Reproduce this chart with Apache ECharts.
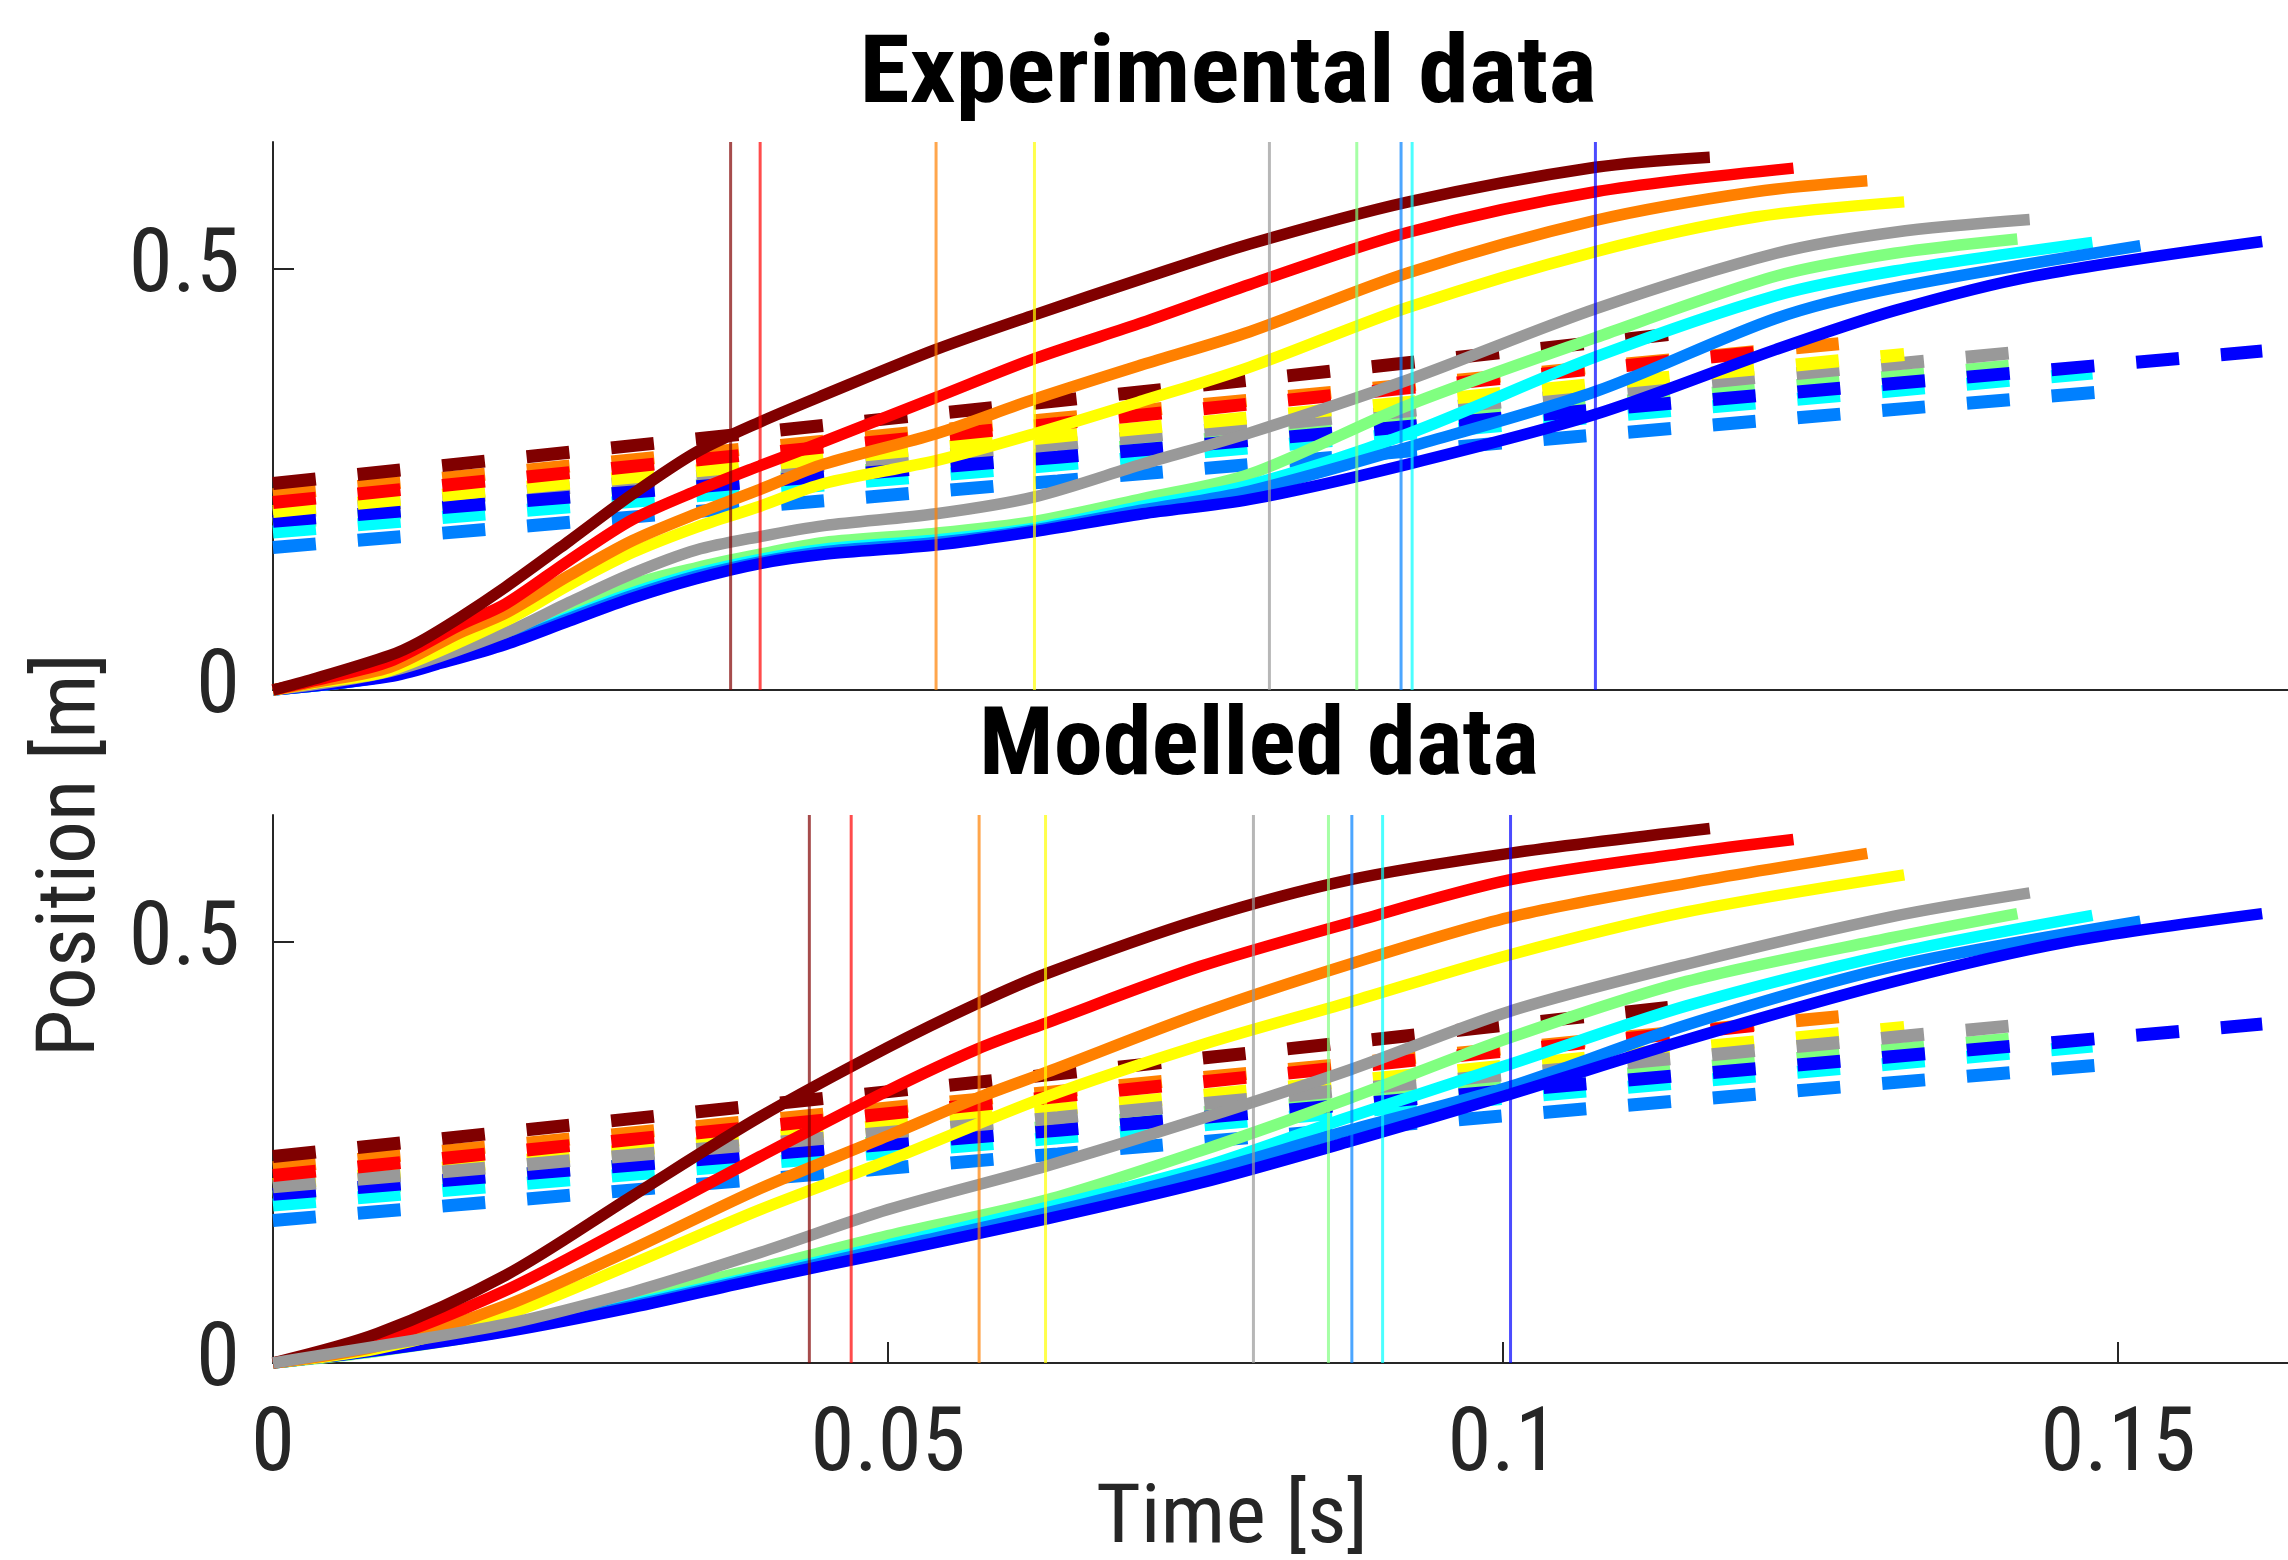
<!DOCTYPE html>
<html>
<head>
    <meta charset="utf-8" />
    <title>Position vs time</title>
    <script src="https://cdn.jsdelivr.net/npm/echarts@6/dist/echarts.min.js"></script>
    <style>
        html, body { margin: 0; padding: 0; background: #fff; }
        #chart { width: 2288px; height: 1560px; }
    </style>
</head>
<body>
<div id="chart"></div>
<script>
    // colours of the nine runs (maroon ... blue)
    var runColors = ['#800000', '#ff0000', '#ff8000', '#ffff00', '#999999', '#80ff80', '#00ffff', '#0080ff', '#0000ff'];
    var lineColors = ['rgba(128,0,0,0.7)', 'rgba(255,0,0,0.7)', 'rgba(255,128,0,0.7)', 'rgba(255,255,0,0.7)',
        'rgba(153,153,153,0.7)', 'rgba(128,255,128,0.7)', 'rgba(0,255,255,0.7)', 'rgba(0,128,255,0.7)', 'rgba(0,0,255,0.7)'];

    // experimental position curves [time s, position m]
    var expMaroon = [[0,0],[0.0033,0.013],[0.0095,0.041],[0.0119,0.057],[0.0152,0.086],[0.0189,0.122],[0.0241,0.177],[0.0292,0.232],[0.0344,0.282],[0.0396,0.318],[0.0448,0.350],[0.0539,0.404],[0.0619,0.445],[0.0707,0.488],[0.0794,0.529],[0.0923,0.579],[0.1075,0.620],[0.1168,0.632]];
    var expRed = [[0,0],[0.0033,0.011],[0.0095,0.034],[0.0152,0.077],[0.0189,0.102],[0.0241,0.154],[0.0292,0.202],[0.0344,0.236],[0.0396,0.266],[0.0448,0.295],[0.0539,0.347],[0.0619,0.393],[0.0707,0.436],[0.0794,0.481],[0.0923,0.543],[0.1075,0.591],[0.1236,0.619]];
    var expOrange = [[0,0],[0.0033,0.009],[0.0095,0.027],[0.0152,0.068],[0.0189,0.091],[0.0241,0.136],[0.0292,0.177],[0.0344,0.209],[0.0396,0.238],[0.0448,0.268],[0.0539,0.304],[0.0619,0.345],[0.0707,0.386],[0.0794,0.425],[0.0923,0.495],[0.1075,0.557],[0.1205,0.591],[0.1296,0.604]];
    var expYellow = [[0,0],[0.0033,0.008],[0.0095,0.023],[0.0189,0.082],[0.0241,0.125],[0.0292,0.163],[0.0344,0.193],[0.0396,0.218],[0.0448,0.245],[0.0539,0.272],[0.0619,0.304],[0.0707,0.343],[0.0794,0.383],[0.0923,0.454],[0.1075,0.520],[0.1205,0.561],[0.1326,0.579]];
    var expGray = [[0,0],[0.0095,0.022],[0.0189,0.068],[0.0241,0.104],[0.0292,0.138],[0.0344,0.166],[0.0396,0.182],[0.0448,0.195],[0.0539,0.209],[0.0619,0.229],[0.0707,0.268],[0.0794,0.305],[0.0923,0.368],[0.1075,0.452],[0.1222,0.518],[0.1318,0.543],[0.1428,0.558]];
    var expGreen = [[0,0],[0.0095,0.018],[0.0189,0.060],[0.0241,0.091],[0.0292,0.125],[0.0344,0.145],[0.0396,0.161],[0.0448,0.175],[0.0539,0.186],[0.0619,0.200],[0.0707,0.227],[0.0794,0.256],[0.0923,0.338],[0.1075,0.418],[0.1222,0.491],[0.1318,0.518],[0.1418,0.535]];
    var expCyan = [[0,0],[0.0095,0.017],[0.0189,0.057],[0.0241,0.087],[0.0292,0.115],[0.0344,0.138],[0.0396,0.155],[0.0448,0.167],[0.0539,0.178],[0.0619,0.192],[0.0707,0.218],[0.0794,0.243],[0.0923,0.304],[0.1075,0.395],[0.1222,0.468],[0.1318,0.497],[0.1479,0.531]];
    var expAzure = [[0,0],[0.0095,0.017],[0.0189,0.056],[0.0241,0.085],[0.0292,0.112],[0.0344,0.135],[0.0396,0.152],[0.0448,0.164],[0.0539,0.175],[0.0619,0.190],[0.0707,0.2135],[0.0794,0.236],[0.0923,0.288],[0.1075,0.354],[0.1222,0.441],[0.1318,0.477],[0.1518,0.527]];
    var expBlue = [[0,0],[0.0095,0.016],[0.0137,0.032],[0.0189,0.054],[0.0241,0.082],[0.0292,0.109],[0.0344,0.132],[0.0396,0.150],[0.0448,0.161],[0.0539,0.172],[0.0619,0.188],[0.0707,0.209],[0.0794,0.226],[0.0923,0.268],[0.1075,0.327],[0.1222,0.404],[0.1318,0.450],[0.1431,0.491],[0.1617,0.532]];

    // modelled position curves
    var modMaroon = [[0,0],[0.0085,0.035],[0.0189,0.104],[0.0292,0.198],[0.0396,0.292],[0.05,0.3745],[0.0572,0.426],[0.0629,0.462],[0.0754,0.526],[0.0875,0.573],[0.1005,0.6045],[0.1168,0.634]];
    var modRed = [[0,0],[0.0085,0.026],[0.0189,0.086],[0.0292,0.1645],[0.0396,0.245],[0.05,0.323],[0.0572,0.372],[0.0629,0.4035],[0.0754,0.4705],[0.0875,0.522],[0.1005,0.573],[0.1149,0.605],[0.1236,0.621]];
    var modOrange = [[0,0],[0.0085,0.02],[0.0189,0.068],[0.0292,0.135],[0.0396,0.207],[0.05,0.2695],[0.0572,0.314],[0.0629,0.345],[0.0754,0.4146],[0.0875,0.473],[0.1005,0.5286],[0.1149,0.569],[0.1296,0.6045]];
    var modYellow = [[0,0],[0.0085,0.017],[0.0189,0.057],[0.0292,0.1176],[0.0396,0.182],[0.05,0.240],[0.0629,0.316],[0.0754,0.377],[0.0875,0.428],[0.1005,0.484],[0.1149,0.535],[0.1326,0.579]];
    var modGray = [[0,0],[0.0085,0.02],[0.0189,0.046],[0.0292,0.084],[0.0396,0.131],[0.05,0.182],[0.0629,0.2337],[0.0754,0.2896],[0.0875,0.3476],[0.1005,0.417],[0.1149,0.473],[0.1318,0.530],[0.1428,0.5576]];
    var modGreen = [[0,0],[0.0085,0.014],[0.0189,0.038],[0.0292,0.077],[0.0396,0.113],[0.05,0.151],[0.0629,0.1935],[0.0754,0.2516],[0.0875,0.314],[0.1005,0.3856],[0.1149,0.4526],[0.1318,0.505],[0.1418,0.533]];
    var modCyan = [[0,0],[0.0085,0.015],[0.0189,0.039],[0.0292,0.07],[0.0396,0.104],[0.05,0.14],[0.0629,0.1846],[0.0754,0.2315],[0.0875,0.2918],[0.1005,0.354],[0.1149,0.4236],[0.1318,0.486],[0.1479,0.531]];
    var modAzure = [[0,0],[0.0085,0.015],[0.0189,0.038],[0.0292,0.068],[0.0396,0.102],[0.05,0.136],[0.0629,0.178],[0.0754,0.2248],[0.0875,0.276],[0.1005,0.3276],[0.1149,0.401],[0.1318,0.4705],[0.1518,0.524]];
    var modBlue = [[0,0],[0.0085,0.0147],[0.0189,0.037],[0.0292,0.066],[0.0396,0.0996],[0.05,0.131],[0.0629,0.171],[0.0754,0.2135],[0.0875,0.2627],[0.1005,0.3186],[0.1149,0.3834],[0.1318,0.4526],[0.1459,0.4995],[0.1617,0.533]];

    // dashed reference lines (same in both panels)
    var refMaroon = [[0,0.245],[0.0638,0.343],[0.1168,0.427]];
    var refRed = [[0,0.2225],[0.0638,0.316],[0.1236,0.405]];
    var refOrange = [[0,0.2316],[0.0638,0.322],[0.1296,0.414]];
    var refYellow = [[0,0.2118],[0.0638,0.301],[0.1326,0.398]];
    var refGray = [[0,0.209],[0.0638,0.291],[0.1428,0.402]];
    var refGreen = [[0,0.197],[0.0638,0.281],[0.1418,0.385]];
    var refCyan = [[0,0.1873],[0.0638,0.267],[0.1479,0.376]];
    var refAzure = [[0,0.169],[0.0638,0.248],[0.1505,0.356]];
    var refBlue = [[0,0.2],[0.0638,0.276],[0.1617,0.402]];

    // crossing times (vertical lines)
    var crossExp = [0.0372, 0.0396, 0.0539, 0.0619, 0.0810, 0.0881, 0.0926, 0.0917, 0.1075];
    var crossMod = [0.0436, 0.0470, 0.0574, 0.0628, 0.0797, 0.0858, 0.0902, 0.0877, 0.1006];

    var xTicks = [0, 0.05, 0.1, 0.15];
    var yTicks = [0, 0.5];

    var expRuns = [expMaroon, expRed, expOrange, expYellow, expGray, expGreen, expCyan, expAzure, expBlue];
    var modRuns = [modMaroon, modRed, modOrange, modYellow, modGray, modGreen, modCyan, modAzure, modBlue];
    var refRuns = [refMaroon, refRed, refOrange, refYellow, refGray, refGreen, refCyan, refAzure, refBlue];

    // drawing order (first drawn = bottom)
    var refOrderTop = [5, 6, 4, 7, 8, 3, 2, 1, 0];
    var refOrderBot = [5, 3, 6, 7, 8, 4, 2, 1, 0];
    var solidOrderTop = [5, 6, 7, 8, 4, 3, 2, 1, 0];
    var solidOrderBot = [5, 6, 7, 8, 3, 2, 1, 0, 4];

    var FONT = '"Roboto Condensed", "Liberation Sans Narrow", Roboto, sans-serif';
    var TXT = '#262626';
    var Y_MAX = 0.65, X_MAX = 0.1638;

    // measure text so the narrow lettering of the original fits
    var mctx = document.createElement('canvas').getContext('2d');
    function textWidth(text, size, weight) {
        mctx.font = (weight || 'normal') + ' ' + size + 'px ' + FONT;
        return mctx.measureText(text).width;
    }
    var tickSize = Math.min(89, Math.round(100 * 158 / textWidth('0.05', 100)));
    function squeeze(text, size, weight, target) {
        return Math.min(1.2, target / textWidth(text, size, weight));
    }

    var series = [];
    function addPanel(idx, runs, cross, refOrder, solidOrder) {
        refOrder.forEach(function (i) {
            series.push({
                type: 'line', xAxisIndex: idx, yAxisIndex: idx, data: refRuns[i],
                showSymbol: false, symbol: 'none', silent: true,
                lineStyle: { color: runColors[i], width: 13, type: [43, 42], cap: 'butt' }
            });
        });
        solidOrder.forEach(function (i) {
            series.push({
                type: 'line', xAxisIndex: idx, yAxisIndex: idx, data: runs[i],
                showSymbol: false, symbol: 'none', silent: true, smooth: 0.3,
                lineStyle: { color: runColors[i], width: 11.5 }
            });
        });
        cross.forEach(function (t, i) {
            series.push({
                type: 'line', xAxisIndex: idx, yAxisIndex: idx, data: [[t, 0], [t, Y_MAX]],
                showSymbol: false, symbol: 'none', silent: true, z: 3,
                lineStyle: { color: lineColors[i], width: 3 }
            });
        });
    }
    addPanel(0, expRuns, crossExp, refOrderTop, solidOrderTop);
    addPanel(1, modRuns, crossMod, refOrderBot, solidOrderBot);

    function xAxis(idx, showTicks) {
        return {
            type: 'value', gridIndex: idx, min: 0, max: X_MAX,
            splitLine: { show: false },
            axisLine: { show: true, onZero: false, lineStyle: { color: TXT, width: 2 } },
            axisTick: { show: showTicks, inside: true, length: 21, customValues: [0.05, 0.1, 0.15], lineStyle: { color: TXT, width: 2 } },
            axisLabel: { show: showTicks, customValues: xTicks, margin: Math.round(80 - 0.45 * tickSize), color: TXT, fontSize: tickSize, fontFamily: FONT }
        };
    }
    function yAxis(idx) {
        return {
            type: 'value', gridIndex: idx, min: 0, max: Y_MAX,
            splitLine: { show: false },
            axisLine: { show: true, onZero: false, lineStyle: { color: TXT, width: 2 } },
            axisTick: { show: true, inside: true, length: 21, customValues: [0.5], lineStyle: { color: TXT, width: 2 } },
            axisLabel: { customValues: yTicks, margin: 33, color: TXT, fontSize: tickSize, fontFamily: FONT }
        };
    }

    function label(text, x, y, size, weight, color, target, rot) {
        return {
            type: 'text', x: x, y: y, rotation: rot || 0,
            scaleX: squeeze(text, size, weight, target),
            style: { text: text, fill: color, fontSize: size, fontWeight: weight, fontFamily: FONT, align: 'center', verticalAlign: 'middle' }
        };
    }

    var myChart = echarts.init(document.getElementById('chart'));
    var option = {
        animation: false,
        backgroundColor: '#fff',
        grid: [
            { left: 273, top: 142, width: 2015, height: 548 },
            { left: 273, top: 815, width: 2015, height: 548 }
        ],
        xAxis: [xAxis(0, false), xAxis(1, true)],
        yAxis: [yAxis(0), yAxis(1)],
        series: series,
        graphic: [
            label('Experimental data', 1228, 78, 94, 'bold', '#000', 737),
            label('Modelled data', 1259, 750, 94, 'bold', '#000', 560),
            label('Position [m]', 73, 855, 82, 'normal', TXT, 404, Math.PI / 2),
            label('Time [s]', 1232, 1521, 82, 'normal', TXT, 272)
        ]
    };
    myChart.setOption(option);
</script>
</body>
</html>
